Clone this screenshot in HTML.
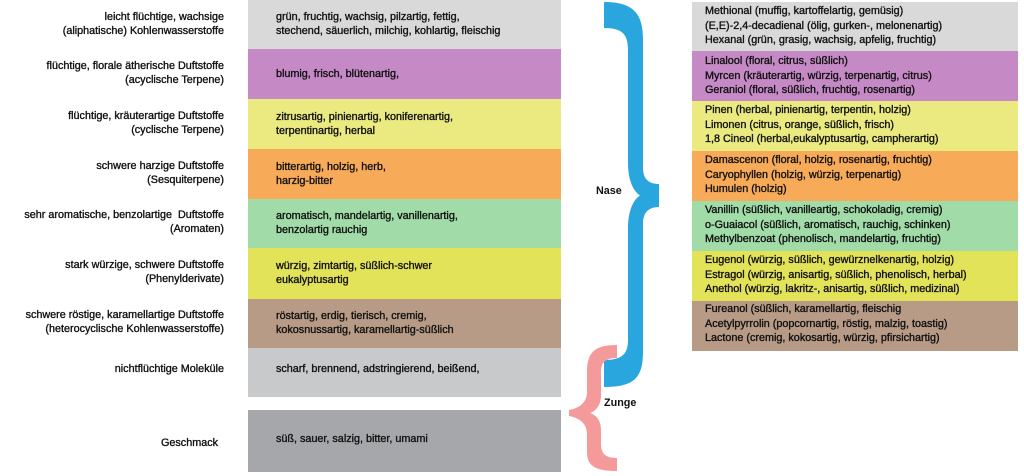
<!DOCTYPE html>
<html><head><meta charset="utf-8">
<style>
body{margin:0;width:1024px;height:476px;background:#fff;position:relative;overflow:hidden;font-family:"Liberation Sans",sans-serif;font-size:10.8px;color:#111;-webkit-text-stroke:0.35px #111;}
.b{position:absolute;left:248px;width:313px;}
.r{position:absolute;left:692px;width:326px;}
.t{position:absolute;line-height:14px;white-space:nowrap;}
.l{position:absolute;right:800px;text-align:right;line-height:14px;white-space:nowrap;}
.rt{position:absolute;left:705px;line-height:14.7px;white-space:nowrap;}
</style></head><body>
<div class="b" style="top:0;height:49px;background:#d9d9d9"></div>
<div class="b" style="top:49px;height:50px;background:#c58ac6"></div>
<div class="b" style="top:99px;height:50px;background:#eaea80"></div>
<div class="b" style="top:149px;height:50px;background:#f7aa58"></div>
<div class="b" style="top:199px;height:49px;background:#a1dba8"></div>
<div class="b" style="top:248px;height:51px;background:#e3e35a"></div>
<div class="b" style="top:299px;height:49px;background:#b89b86"></div>
<div class="b" style="top:348px;height:49px;background:#c8c9ca"></div>
<div class="b" style="top:410px;height:62px;background:#a6a7aa"></div>

<div class="l" style="top:10px">leicht flüchtige, wachsige<br>(aliphatische) Kohlenwasserstoffe</div>
<div class="l" style="top:59px">flüchtige, florale ätherische Duftstoffe<br>(acyclische Terpene)</div>
<div class="l" style="top:109px">flüchtige, kräuterartige Duftstoffe<br>(cyclische Terpene)</div>
<div class="l" style="top:159px">schwere harzige Duftstoffe<br>(Sesquiterpene)</div>
<div class="l" style="top:208px">sehr aromatische, benzolartige&nbsp; Duftstoffe<br>(Aromaten)</div>
<div class="l" style="top:258px">stark würzige, schwere Duftstoffe<br>(Phenylderivate)</div>
<div class="l" style="top:308px">schwere röstige, karamellartige Duftstoffe<br>(heterocyclische Kohlenwasserstoffe)</div>
<div class="l" style="top:362px">nichtflüchtige Moleküle</div>
<div class="l" style="top:436px;right:806px">Geschmack</div>

<div class="t" style="left:276px;top:10px">grün, fruchtig, wachsig, pilzartig, fettig,<br>stechend, säuerlich, milchig, kohlartig, fleischig</div>
<div class="t" style="left:276px;top:67px">blumig, frisch, blütenartig,</div>
<div class="t" style="left:276px;top:110px">zitrusartig, pinienartig, koniferenartig,<br>terpentinartig, herbal</div>
<div class="t" style="left:276px;top:160px">bitterartig, holzig, herb,<br>harzig-bitter</div>
<div class="t" style="left:276px;top:209px">aromatisch, mandelartig, vanillenartig,<br>benzolartig rauchig</div>
<div class="t" style="left:276px;top:259px">würzig, zimtartig, süßlich-schwer<br>eukalyptusartig</div>
<div class="t" style="left:276px;top:309px">röstartig, erdig, tierisch, cremig,<br>kokosnussartig, karamellartig-süßlich</div>
<div class="t" style="left:276px;top:362px">scharf, brennend, adstringierend, beißend,</div>
<div class="t" style="left:276px;top:432px">süß, sauer, salzig, bitter, umami</div>

<div class="r" style="top:2px;height:49px;background:#d9d9d9"></div>
<div class="r" style="top:51px;height:50px;background:#c58ac6"></div>
<div class="r" style="top:101px;height:50px;background:#eaea80"></div>
<div class="r" style="top:151px;height:50px;background:#f7aa58"></div>
<div class="r" style="top:201px;height:50px;background:#a1dba8"></div>
<div class="r" style="top:251px;height:50px;background:#e3e35a"></div>
<div class="r" style="top:301px;height:50px;background:#b89b86"></div>

<div class="rt" style="top:4px">Methional (muffig, kartoffelartig, gemüsig)<br>(E,E)-2,4-decadienal (ölig, gurken-, melonenartig)<br>Hexanal (grün, grasig, wachsig, apfelig, fruchtig)</div>
<div class="rt" style="top:54px">Linalool (floral, citrus, süßlich)<br>Myrcen (kräuterartig, würzig, terpenartig, citrus)<br>Geraniol (floral, süßlich, fruchtig, rosenartig)</div>
<div class="rt" style="top:103px">Pinen (herbal, pinienartig, terpentin, holzig)<br>Limonen (citrus, orange, süßlich, frisch)<br>1,8 Cineol (herbal,eukalyptusartig, campherartig)</div>
<div class="rt" style="top:153px">Damascenon (floral, holzig, rosenartig, fruchtig)<br>Caryophyllen (holzig, würzig, terpenartig)<br>Humulen (holzig)</div>
<div class="rt" style="top:203px">Vanillin (süßlich, vanilleartig, schokoladig, cremig)<br>o-Guaiacol (süßlich, aromatisch, rauchig, schinken)<br>Methylbenzoat (phenolisch, mandelartig, fruchtig)</div>
<div class="rt" style="top:253px">Eugenol (würzig, süßlich, gewürznelkenartig, holzig)<br>Estragol (würzig, anisartig, süßlich, phenolisch, herbal)<br>Anethol (würzig, lakritz-, anisartig, süßlich, medizinal)</div>
<div class="rt" style="top:302px">Fureanol (süßlich, karamellartig, fleischig<br>Acetylpyrrolin (popcornartig, röstig, malzig, toastig)<br>Lactone (cremig, kokosartig, würzig, pfirsichartig)</div>

<svg style="position:absolute;left:0;top:0" width="1024" height="476">
<path fill="#2aa6de" d="M604,2 C634,2 643,14 643,40 L643,168 C643,180 650,184 659,184 L659,207 C650,207 643,211 643,224 L643,352 C643,378 634,387 604,387 L604,360 C622,360 628,354 628,340 L628,228 C628,210 634,199 640,195.5 C634,192 628,181 628,163 L628,50 C628,34 622,28 604,28 Z"/>
<path fill="#f49a9a" d="M617,345 C595,345 587,352 587,372 L587,392 C587,402 580,408 569,410 L569,416 C580,418 587,424 587,434 L587,452 C587,466 595,471 617,471 L617,458 C606,458 601,454 601,444 L601,430 C601,420 596,415 590,413 C596,411 601,405 601,395 L601,372 C601,362 606,358 617,358 Z"/>
<text x="596" y="194" font-family="Liberation Sans" font-size="10.8" font-weight="bold" fill="#111">Nase</text>
<text x="604" y="406" font-family="Liberation Sans" font-size="10.8" font-weight="bold" fill="#111">Zunge</text>
</svg>
</body></html>
